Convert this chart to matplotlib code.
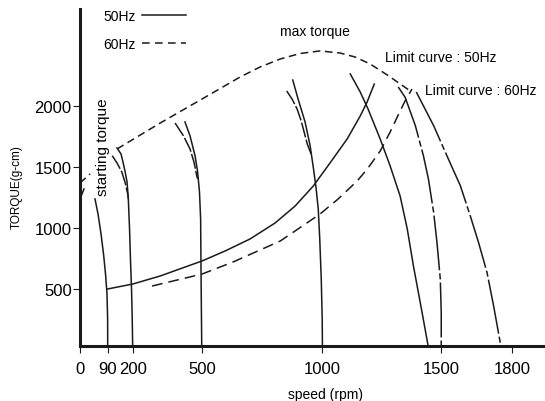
import numpy as np
import matplotlib
matplotlib.use("Agg")
import matplotlib.pyplot as plt
from matplotlib.lines import Line2D

plt.rcParams['font.family'] = ['Liberation Sans', 'DejaVu Sans']

nan = np.nan

# the speed axis of the original is stretched below 200 rpm
scale_rpm = [0, 90, 200, 500, 1000, 1500, 1800, 2600]
scale_pos = [0, 27.7, 52.7, 121.7, 242.3, 361, 431.7, 620.3]

speed_ticks = [0, 90, 200, 500, 1000, 1500, 1800]
torque_ticks = [500, 1000, 1500, 2000]

# 50Hz speed curves (solid); nan = part hidden behind the "starting torque" label
rpm_90 = [0, 13, nan, 48.75, 58.5, 68.25, 76.4, 82.9, 87.7, 89.7, 90]
tq_90 = [1236, 1318, nan, 1236, 1113, 950, 786, 622, 459, 254, 0]
rpm_200 = [131, 148.5, 157, 166, 175, 180.6, 186, 190, 194.7, 197.8, 200]
tq_200 = [1653, 1604, 1539, 1464, 1375, 1236, 991, 745, 500, 254, 0]
rpm_500 = [427, 449, 471, 482, 490, 495, 497, 500]
tq_500 = [1866, 1752, 1588, 1457, 1293, 1072, 582, 0]
rpm_1000 = [877, 899, 928, 949, 963, 974, 982.6, 988.8, 995, 999, 1000]
tq_1000 = [2209, 2054, 1866, 1670, 1482, 1318, 1154, 909, 582, 254, 0]

# 60Hz speed curves, they run into the 50Hz ones
rpm_200_60 = [110, 131, 152, 167, 178, 181]
tq_200_60 = [1590, 1530, 1457, 1367, 1277, 1236]
rpm_500_60 = [384, 420, 449, 466.5, 478, 482]
tq_500_60 = [1857, 1754, 1645, 1536, 1427, 1400]
rpm_1000_60 = [852, 874, 895, 912, 924, 937, 953]
tq_1000_60 = [2119, 2054, 1972, 1874, 1784, 1686, 1604]

# limit curves
rpm_lim50 = [1117, 1159, 1192, 1243, 1285, 1327, 1357, 1383, 1419, 1448]
tq_lim50 = [2259, 2111, 1972, 1727, 1506, 1260, 991, 688, 312, 0]
rpm_lim_a = [1319, 1348, 1391, 1425, 1446, 1468, 1482, 1496, 1500, 1500]
tq_lim_a = [2152, 2068, 1836, 1590, 1400, 1127, 882, 582, 312, 0]
rpm_lim60 = [1395, 1468, 1524, 1581, 1623, 1658, 1694, 1722, 1750, 1754]
tq_lim60 = [2111, 1836, 1590, 1345, 1099, 882, 636, 363, 64, 0]

# load lines and max torque envelope
rpm_load50 = [90, 201, 319, 501, 597, 700, 804, 887, 962, 1032, 1104, 1159, 1188, 1218]
tq_load50 = [500, 541, 606, 729, 811, 909, 1040, 1179, 1342, 1531, 1727, 1915, 2029, 2176]
rpm_load60 = [284, 501, 630, 825, 990, 1066, 1146, 1189, 1243, 1285, 1327, 1352, 1377]
tq_load60 = [524, 622, 721, 892, 1113, 1236, 1383, 1482, 1628, 1784, 1956, 2054, 2135]
rpm_max = [0, 32.5, nan, 131, 319, 493, 659, 742, 825, 907, 990, 1074, 1138, 1201, 1273, 1370]
tq_max = [1367, 1441, nan, 1645, 1857, 2045, 2234, 2316, 2381, 2426, 2447, 2430, 2397, 2340, 2250, 2119]


def fwd(x):
    return np.interp(x, scale_rpm, scale_pos)


def inv(p):
    return np.interp(p, scale_pos, scale_rpm)


fig = plt.figure(figsize=(5.45, 4.02), dpi=100)
ax = fig.add_axes([80 / 545, 55 / 402, 465 / 545, 337 / 402])
ax.set_xscale('function', functions=(fwd, inv))
ax.set_xlim(0, 1940)
ax.set_ylim(33.5, 2790)

lw = 1.1
k = '#1a1a1a'
for x, y in [(rpm_90, tq_90), (rpm_200, tq_200), (rpm_500, tq_500),
             (rpm_1000, tq_1000), (rpm_lim50, tq_lim50), (rpm_load50, tq_load50)]:
    ax.plot(x, y, color=k, lw=lw)
for x, y in [(rpm_200_60, tq_200_60), (rpm_500_60, tq_500_60), (rpm_1000_60, tq_1000_60)]:
    ax.plot(x, y, color=k, lw=lw, dashes=(10, 1.5))
for x, y in [(rpm_lim_a, tq_lim_a), (rpm_lim60, tq_lim60)]:
    ax.plot(x, y, color=k, lw=lw, dashes=(36, 2, 4, 2))
ax.plot(rpm_load60, tq_load60, color=k, lw=lw, dashes=(7, 4))
ax.plot(rpm_max, tq_max, color=k, lw=lw, dashes=(5, 3))

for side in ['top', 'right']:
    ax.spines[side].set_visible(False)
for side in ['left', 'bottom']:
    ax.spines[side].set_linewidth(2.2)
    ax.spines[side].set_color(k)

ax.set_xticks(speed_ticks)
ax.set_xticklabels([str(v) for v in speed_ticks])
ax.set_yticks(torque_ticks)
ax.minorticks_off()
ax.tick_params(axis='x', direction='out', length=5, width=0.8, pad=6, labelsize=12, color=k)
ax.tick_params(axis='y', direction='out', length=5, width=0.8, pad=1, labelsize=12, color=k)

ax.set_xlabel('speed (rpm)', fontsize=10)
ax.xaxis.set_label_coords(0.527, -0.122)
ax.set_ylabel('TORQUE(g-cm)', fontsize=8.5)
ax.yaxis.set_label_coords(-0.123, 0.475)

ax.text(0.505, 0.935, 'max torque', fontsize=10, ha='center', va='center',
        transform=ax.transAxes)
ax.text(0.656, 0.858, 'Limit curve : 50Hz', fontsize=10, ha='left', va='center',
        transform=ax.transAxes)
ax.text(0.742, 0.760, 'Limit curve : 60Hz', fontsize=10, ha='left', va='center',
        transform=ax.transAxes)
ax.text(0.049, 0.594, 'starting torque', fontsize=11, rotation=90, ha='center', va='center',
        transform=ax.transAxes,
        bbox=dict(facecolor='white', edgecolor='none', pad=1))

handles = [Line2D([], [], color=k, lw=lw),
           Line2D([], [], color=k, lw=lw, dashes=(5, 3.5))]
ax.legend(handles, ['50Hz', '60Hz'], loc='upper left', bbox_to_anchor=(0.05, 0.999),
          frameon=False, markerfirst=False, handlelength=3.2, handletextpad=0.45,
          labelspacing=0.95, fontsize=10, borderpad=0, borderaxespad=0)

fig.savefig('out.png', dpi=100)
